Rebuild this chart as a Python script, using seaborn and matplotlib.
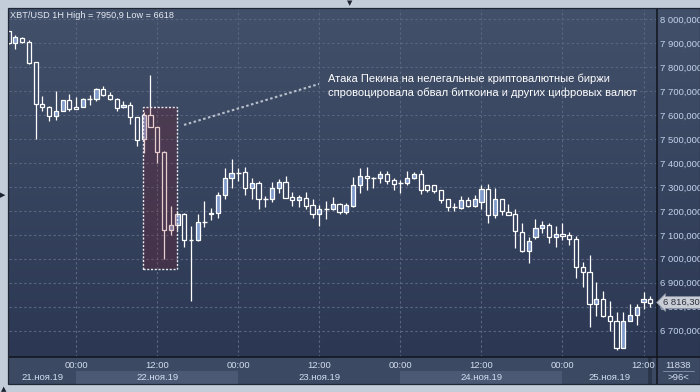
import matplotlib
matplotlib.use("Agg")
import numpy as np
import pandas as pd
import matplotlib.pyplot as plt
import seaborn as sns
from matplotlib.patches import Rectangle
from matplotlib.lines import Line2D
from matplotlib.colors import to_rgb

# ---------------- data ----------------
opens = [7950, 7900, 7924, 7904, 7820, 7648, 7635, 7597, 7618, 7663,
         7635, 7634, 7667, 7667, 7711, 7685, 7669, 7632, 7643, 7593,
         7499, 7601, 7551, 7448, 7120, 7141, 7189, 7078, 7078, 7155,
         7188, 7190, 7265, 7336, 7360, 7361, 7294, 7317, 7250, 7248,
         7294, 7321, 7258, 7244, 7253, 7223, 7189, 7209, 7209, 7227,
         7196, 7220, 7307, 7345, 7339, 7336, 7353, 7328, 7318, 7318,
         7339, 7353, 7307, 7307, 7287, 7249, 7218, 7214, 7245, 7221,
         7238, 7290, 7181, 7248, 7197, 7185, 7112, 7033, 7089, 7130,
         7140, 7091, 7105, 7098, 7084, 6967, 6944, 6810, 6831, 6760,
         6740, 6628, 6740, 6764, 6819, 6831]
highs = [7950.9, 7935, 7926, 7913, 7821, 7678, 7636, 7699, 7665, 7690,
         7674, 7670, 7683, 7712, 7720, 7695, 7670, 7657, 7653, 7594,
         7612, 7767, 7552, 7449, 7219, 7199, 7190, 7136, 7187, 7241,
         7213, 7279, 7378, 7416, 7378, 7384, 7339, 7325, 7262, 7321,
         7335, 7346, 7280, 7266, 7279, 7249, 7224, 7241, 7258, 7234,
         7231, 7342, 7380, 7383, 7343, 7367, 7367, 7336, 7328, 7367,
         7363, 7370, 7310, 7310, 7288, 7250, 7231, 7262, 7259, 7266,
         7310, 7312, 7297, 7249, 7229, 7209, 7148, 7089, 7166, 7157,
         7150, 7136, 7150, 7112, 7094, 6986, 7014, 6904, 6866, 6823,
         6779, 6778, 6810, 6813, 6860, 6846]
lows = [7898, 7878, 7902, 7815, 7499, 7617, 7575, 7579, 7617, 7617,
        7624, 7633, 7641, 7657, 7678, 7662, 7617, 7631, 7561, 7472,
        7443, 7549, 7398, 6998, 7101, 7120, 7049, 6824, 7073, 7133,
        7161, 7171, 7251, 7294, 7324, 7265, 7248, 7209, 7217, 7237,
        7276, 7254, 7220, 7216, 7206, 7169, 7136, 7166, 7203, 7188,
        7188, 7216, 7276, 7289, 7296, 7318, 7311, 7289, 7276, 7307,
        7332, 7272, 7280, 7276, 7234, 7199, 7199, 7206, 7217, 7217,
        7209, 7150, 7171, 7182, 7181, 7045, 7028, 6981, 7084, 7108,
        7066, 7049, 7080, 7059, 6918, 6883, 6717, 6760, 6758, 6700,
        6618, 6628, 6740, 6722, 6792, 6799]
closes = [7900, 7925, 7904, 7819, 7646, 7634, 7597, 7618, 7663, 7625,
          7627, 7666, 7667, 7711, 7684, 7667, 7629, 7643, 7593, 7496,
          7601, 7551, 7448, 7120, 7141, 7185, 7078, 7078, 7155, 7155,
          7190, 7265, 7336, 7359, 7360, 7294, 7315, 7248, 7250, 7294,
          7321, 7255, 7244, 7258, 7220, 7189, 7209, 7209, 7227, 7196,
          7224, 7307, 7345, 7336, 7339, 7353, 7326, 7311, 7318, 7339,
          7353, 7289, 7289, 7284, 7246, 7218, 7218, 7245, 7221, 7248,
          7290, 7181, 7248, 7199, 7183, 7115, 7033, 7075, 7130, 7140,
          7091, 7105, 7097, 7082, 6967, 6944, 6810, 6831, 6760, 6740,
          6628, 6740, 6764, 6799, 6831, 6816.3]

start_time = "2019-11-21 14:00"
month_ru = "ноя"
y_ticks = list(range(6700, 8001, 100))
title_text = "XBT/USD 1H High = 7950,9 Low = 6618"
note_lines = ["Атака Пекина на нелегальные криптовалютные биржи",
              "спровоцировала обвал биткоина и других цифровых валют"]
last_price_label = "6 816,30"
footer_values = ["11838", ">96<"]
# highlighted range (candle index span and price span)
hl_x = (19.93, 24.97)
hl_y = (6956, 7633)

# ---------------- style ----------------
sns.set_theme(style="dark")
plt.rcParams['font.family'] = ['Liberation Sans', 'DejaVu Sans']

W, H = 700, 392
fig = plt.figure(figsize=(7, 3.92), dpi=100, facecolor='#c3cdda')

def fx(px):
    return px / W

def fy(py):
    return 1 - py / H

L, R, T, B, PB = 9, 657, 9, 357, 384

TOP_C = np.array(to_rgb('#42506a'))
BOT_C = np.array(to_rgb('#2c3853'))

# gradient background (plot + right scale)
bg = fig.add_axes([fx(L), fy(B), fx(W - L), (B - T) / H], zorder=-2)
t = np.linspace(0, 1, 256).reshape(-1, 1, 1)
img = TOP_C * (1 - t) + BOT_C * t
bg.imshow(img, aspect='auto', extent=[0, 1, 0, 1])
bg.axis('off')

# bottom panel
fig.add_artist(Rectangle((fx(L), fy(PB)), fx(W - L), (PB - B) / H,
                         transform=fig.transFigure, fc='#3c4962', ec='none', zorder=-1))

ax = fig.add_axes([fx(L), fy(B), fx(R - L), (B - T) / H], zorder=1)
ax.set_facecolor('none')
ymin, ymax = 6590, 8043
ax.set_xlim(0.06, 95.99)
ax.set_ylim(ymin, ymax)

df = pd.DataFrame({'open': opens, 'high': highs, 'low': lows, 'close': closes})
df['time'] = pd.date_range(start_time, periods=len(df), freq='h')
df['idx'] = np.arange(len(df))

# grid
tick_idx = df.loc[df['time'].dt.hour.isin([0, 12]), 'idx'].tolist()
ax.set_xticks(tick_idx)
ax.set_yticks(y_ticks)
ax.grid(True, color='#58667f', ls=(0, (2.2, 2.2)), lw=0.8)
for s in ax.spines.values():
    s.set_visible(False)
ax.tick_params(axis='x', length=0, labelbottom=False)
ax.yaxis.tick_right()
ax.set_yticklabels([f"{v:,}".replace(',', ' ') + ",000" for v in y_ticks])
ax.tick_params(axis='y', length=0, pad=2.2, labelsize=6.8, labelcolor='#c4d3ec')

# candles
up_color = '#7f9bcb'
bw = 0.62
for _, r in df.iterrows():
    i, o, h, l, c = r['idx'], r['open'], r['high'], r['low'], r['close']
    ax.vlines(i, l, h, color='white', lw=0.9, zorder=3)
    lo, hi = min(o, c), max(o, c)
    if hi - lo < 1.5:
        ax.hlines(c, i - bw / 2 - 0.05, i + bw / 2 + 0.05, color='white', lw=1.0, zorder=4)
        continue
    if c >= o:
        fc = up_color
    else:
        tt = (ymax - (lo + hi) / 2) / (ymax - ymin)
        fc = TOP_C * (1 - tt) + BOT_C * tt
    ax.bar(i, hi - lo, bottom=lo, width=bw, color=fc, edgecolor='white', lw=0.9, zorder=4)

# highlight rectangle
ax.add_patch(Rectangle((hl_x[0], hl_y[0]), hl_x[1] - hl_x[0], hl_y[1] - hl_y[0],
                       fc='#900710', alpha=0.2, ec='none', zorder=5))
ax.add_patch(Rectangle((hl_x[0], hl_y[0]), hl_x[1] - hl_x[0], hl_y[1] - hl_y[0],
                       fill=False, ec='#e8e8ee', lw=1.0, ls=(0, (1.5, 1.2)), zorder=6))

# connector and note
ax.plot([25.97, 45.95], [7559, 7730], color='#b8c0cc', lw=1.5, ls=(0, (1.2, 1.2)), zorder=6)
ax.text(47.3, 7751, note_lines[0], color='white', fontsize=8, va='center', ha='left', zorder=7)
ax.text(47.3, 7692, note_lines[1], color='white', fontsize=8, va='center', ha='left', zorder=7)

# x labels (time row and date row)
xt = ax.get_xaxis_transform()
ty = (B - 365.5) / (B - T)
for i in tick_idx:
    ax.text(i, ty, df['time'][i].strftime('%H:%M'), transform=xt, ha='center', va='center',
            fontsize=6.8, color='#d2ddf0', clip_on=False)

days = df.groupby(df['time'].dt.date)['idx'].agg(['min', 'max'])
band_lo = (B - PB) / (B - T)
band_hi = (B - 371) / (B - T)
dy = (B - 377) / (B - T)
for k, (d, row) in enumerate(days.iterrows()):
    x0 = max(row['min'], 0.06)
    x1 = min(row['max'] + 1, 95.99)
    if k % 2 == 1:
        ax.add_patch(Rectangle((x0, band_lo), x1 - x0, band_hi - band_lo, transform=xt,
                               fc='#4b5974', ec='none', clip_on=False, zorder=0))
    lab = f"{d.day}.{month_ru}.{d.strftime('%y')}"
    ax.text((x0 + x1) / 2, dy, lab, transform=xt, ha='center', va='center',
            fontsize=6.8, color='#d2ddf0', clip_on=False)

# frame lines
fig.add_artist(Line2D([fx(R), fx(R)], [fy(T), fy(PB)], color='#10141c', lw=1.1, zorder=3))
fig.add_artist(Line2D([fx(L), fx(W)], [fy(B), fy(B)], color='#10141c', lw=1.1, zorder=3))
fig.add_artist(Rectangle((fx(8), fy(PB)), fx(W - 8), (PB - 8) / H, transform=fig.transFigure,
                         fill=False, ec='#1f2634', lw=0.9, zorder=3))
# scrollbar stub
fig.add_artist(Rectangle((fx(648), fy(PB)), fx(4), (PB - B) / H, transform=fig.transFigure,
                         fc='#2c364b', ec='none', zorder=0))

# title
fig.text(fx(10), fy(15), title_text, fontsize=6.6, color='#e6ebf3', ha='left', va='center', zorder=5)

# last price tag
fig.text(fx(663), fy(302.5), last_price_label, fontsize=6.8, color='#2a2f3a', ha='left', va='center',
         zorder=6, bbox=dict(boxstyle='larrow,pad=0.15', fc='#c8cdd6', ec='#8a92a2', lw=0.6))

# footer box
fig.text(fx(678), fy(365), footer_values[0], fontsize=6.8, color='#d2ddf0', ha='center', va='center')
fig.text(fx(678), fy(377.5), footer_values[1], fontsize=6.8, color='#d2ddf0', ha='center', va='center')
fig.add_artist(Line2D([fx(663), fx(694)], [fy(371), fy(371)], color='#7c8aa2', lw=0.7))

# frame triangles
fig.text(fx(350), fy(3), "▼", fontsize=5, color='#1c2230', ha='center', va='center', family='DejaVu Sans')
fig.text(fx(3), fy(195), "▶", fontsize=5, color='#1c2230', ha='center', va='center', family='DejaVu Sans')
fig.text(fx(4), fy(389), "▲", fontsize=5, color='#1c2230', ha='center', va='center', family='DejaVu Sans')

fig.savefig("out.png", dpi=100, facecolor=fig.get_facecolor())
